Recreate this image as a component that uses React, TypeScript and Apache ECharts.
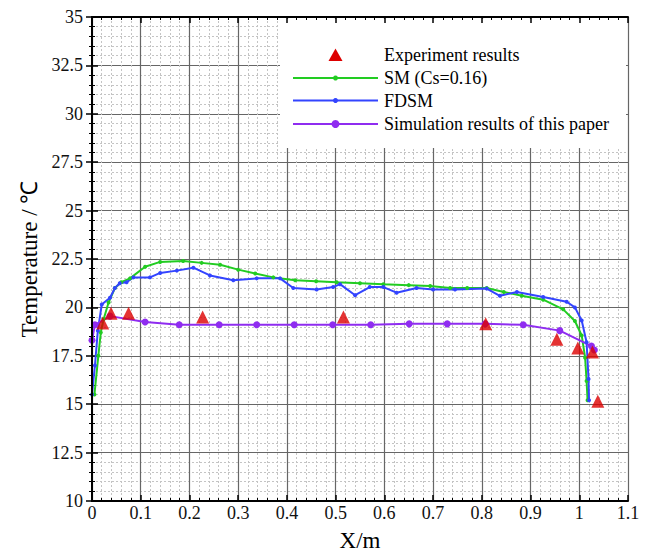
import React, { useEffect, useRef } from "react";
import * as echarts from "echarts";

const xTicks = [0, 1.1, 0.1];
const yTicks = [10, 35, 2.5];

const experiment: number[][] = [
  [0.022, 19.2], [0.039, 19.7], [0.075, 19.7], [0.227, 19.5], [0.516, 19.5],
  [0.808, 19.15], [0.954, 18.35], [0.997, 17.9], [1.027, 17.7], [1.038, 15.15],
];

const smCs016: number[][] = [
  [0.005, 15.5], [0.013, 17.5], [0.018, 18.7], [0.024, 19.4], [0.034, 20.25],
  [0.047, 21.0], [0.06, 21.3], [0.078, 21.5], [0.109, 22.1], [0.14, 22.35],
  [0.187, 22.4], [0.225, 22.3], [0.263, 22.2], [0.3, 21.95], [0.335, 21.75],
  [0.372, 21.55], [0.417, 21.4], [0.46, 21.35], [0.502, 21.3], [0.55, 21.25],
  [0.598, 21.2], [0.65, 21.15], [0.694, 21.1], [0.735, 21.0], [0.77, 21.0],
  [0.81, 21.0], [0.845, 20.8], [0.882, 20.6], [0.926, 20.4], [0.967, 19.9],
  [0.991, 19.3], [1.005, 18.55], [1.012, 17.4], [1.015, 16.2], [1.017, 15.2],
];

const fdsm: number[][] = [
  [0.0, 15.5], [0.006, 17.0], [0.012, 18.8], [0.02, 20.15], [0.037, 20.5],
  [0.047, 21.0], [0.057, 21.25], [0.071, 21.3], [0.085, 21.55], [0.119, 21.55],
  [0.14, 21.78], [0.174, 21.9], [0.208, 22.05], [0.242, 21.65], [0.29, 21.4],
  [0.338, 21.5], [0.386, 21.5], [0.413, 21.0], [0.461, 20.93], [0.495, 21.05],
  [0.509, 21.2], [0.54, 20.63], [0.57, 21.05], [0.598, 21.05], [0.625, 20.76],
  [0.666, 21.0], [0.7, 20.93], [0.745, 20.93], [0.81, 20.97], [0.837, 20.6],
  [0.872, 20.8], [0.926, 20.54], [0.974, 20.29], [0.991, 20.0], [1.005, 19.32],
  [1.015, 18.2], [1.019, 16.3], [1.02, 15.2],
];

const thisPaper: number[][] = [
  [0.0, 18.3], [0.006, 19.1], [0.037, 19.55], [0.109, 19.25], [0.179, 19.1],
  [0.261, 19.1], [0.338, 19.1], [0.415, 19.1], [0.494, 19.1], [0.572, 19.1],
  [0.651, 19.15], [0.729, 19.15], [0.807, 19.15], [0.885, 19.1], [0.96, 18.8],
  [1.025, 18.0], [1.031, 17.8],
];

const seriesNames = [
  "Experiment results",
  "SM (Cs=0.16)",
  "FDSM",
  "Simulation results of this paper",
];
const seriesColors = ["#dd0000", "#22cc22", "#3344ff", "#8f2cf0"];

const FONT = "'Liberation Serif', 'Times New Roman', serif";

function buildLegend() {
  const left = 293;
  const lineLen = 85;
  const textX = 384;
  const rows = [55, 78, 100.5, 124];
  const dotR = [0, 2.5, 2.5, 4];
  const Z = 100;
  const children: any[] = [
    { type: "rect", z: Z, shape: { x: 280, y: 19, width: 346, height: 129 }, style: { fill: "#fff" } },
  ];
  rows.forEach((y, i) => {
    const cx = left + lineLen / 2;
    if (i === 0) {
      children.push({
        type: "polygon",
        z: Z + 1,
        shape: { points: [[cx, y - 6.5], [cx + 7, y + 6], [cx - 7, y + 6]] },
        style: { fill: seriesColors[0] },
      });
    } else {
      children.push({
        type: "line",
        z: Z + 1,
        shape: { x1: left, y1: y, x2: left + lineLen, y2: y },
        style: { stroke: seriesColors[i], lineWidth: 2 },
      });
      children.push({
        type: "circle",
        z: Z + 2,
        shape: { cx, cy: y, r: dotR[i] },
        style: { fill: seriesColors[i] },
      });
    }
    children.push({
      type: "text",
      z: Z + 1,
      x: textX,
      y,
      style: {
        text: seriesNames[i],
        font: `18px ${FONT}`,
        fill: "#000",
        verticalAlign: "middle",
        align: "left",
      },
    });
  });
  return [{ type: "group", z: Z, children }];
}

export default function App() {
  const ref = useRef<HTMLDivElement>(null);
  useEffect(() => {
    if (!ref.current) return;
    const chart = echarts.init(ref.current, undefined, { renderer: "svg" });
    const fmt = (v: number) => String(+v.toFixed(1));
    const axisCommon = {
      type: "value" as const,
      axisLine: { show: true, lineStyle: { color: "#000", width: 2 } },
      axisTick: { show: true, inside: true, length: 6, lineStyle: { color: "#000", width: 1.5 } },
      minorTick: { show: true, splitNumber: 5, length: 3, lineStyle: { color: "#000", width: 1 } },
    };
    chart.setOption({
      animation: false,
      backgroundColor: "#fff",
      textStyle: { fontFamily: FONT },
      grid: { left: 92, right: 20, top: 17, bottom: 49 },
      graphic: buildLegend(),
      xAxis: [
        {
          ...axisCommon,
          position: "bottom",
          min: xTicks[0],
          max: xTicks[1],
          interval: xTicks[2],
          name: "X/m",
          nameLocation: "middle",
          nameGap: 28,
          nameTextStyle: { fontFamily: FONT, fontSize: 23, color: "#000" },
          axisLabel: { fontFamily: FONT, fontSize: 18, color: "#111", margin: 3, formatter: fmt },
          splitLine: { show: true, lineStyle: { color: "#666", width: 1.2 } },
          minorSplitLine: { show: true, lineStyle: { color: "#c4c4c4", width: 1, type: [2, 2] } },
        },
        {
          ...axisCommon,
          position: "top",
          min: xTicks[0],
          max: xTicks[1],
          interval: xTicks[2],
          axisLabel: { show: false },
          splitLine: { show: false },
          z: 200,
        },
      ],
      yAxis: [
        {
          ...axisCommon,
          position: "left",
          min: yTicks[0],
          max: yTicks[1],
          interval: yTicks[2],
          name: "Temperature / ℃",
          nameLocation: "middle",
          nameGap: 50,
          nameTextStyle: { fontFamily: FONT, fontSize: 23, color: "#000" },
          axisLabel: { fontFamily: FONT, fontSize: 18, color: "#111", margin: 9, formatter: fmt },
          splitLine: { show: true, lineStyle: { color: "#666", width: 1.2 } },
          minorSplitLine: { show: true, lineStyle: { color: "#c4c4c4", width: 1, type: [2, 2] } },
        },
        {
          ...axisCommon,
          position: "right",
          min: yTicks[0],
          max: yTicks[1],
          interval: yTicks[2],
          axisLabel: { show: false },
          splitLine: { show: false },
          z: 200,
        },
      ],
      series: [
        {
          name: seriesNames[0],
          type: "scatter",
          symbol: "triangle",
          symbolSize: 13,
          itemStyle: { color: seriesColors[0] },
          data: experiment,
          z: 5,
        },
        {
          name: seriesNames[1],
          type: "line",
          symbol: "circle",
          symbolSize: 4,
          showSymbol: true,
          lineStyle: { width: 2, color: seriesColors[1] },
          itemStyle: { color: seriesColors[1] },
          data: smCs016,
        },
        {
          name: seriesNames[2],
          type: "line",
          symbol: "circle",
          symbolSize: 4,
          showSymbol: true,
          lineStyle: { width: 2, color: seriesColors[2] },
          itemStyle: { color: seriesColors[2] },
          data: fdsm,
        },
        {
          name: seriesNames[3],
          type: "line",
          symbol: "circle",
          symbolSize: 7,
          showSymbol: true,
          lineStyle: { width: 2, color: seriesColors[3] },
          itemStyle: { color: seriesColors[3] },
          data: thisPaper,
        },
      ],
    });
    return () => chart.dispose();
  }, []);
  return (
    <div
      ref={ref}
      style={{ position: "fixed", left: 0, top: 0, width: 648, height: 557 }}
    />
  );
}
